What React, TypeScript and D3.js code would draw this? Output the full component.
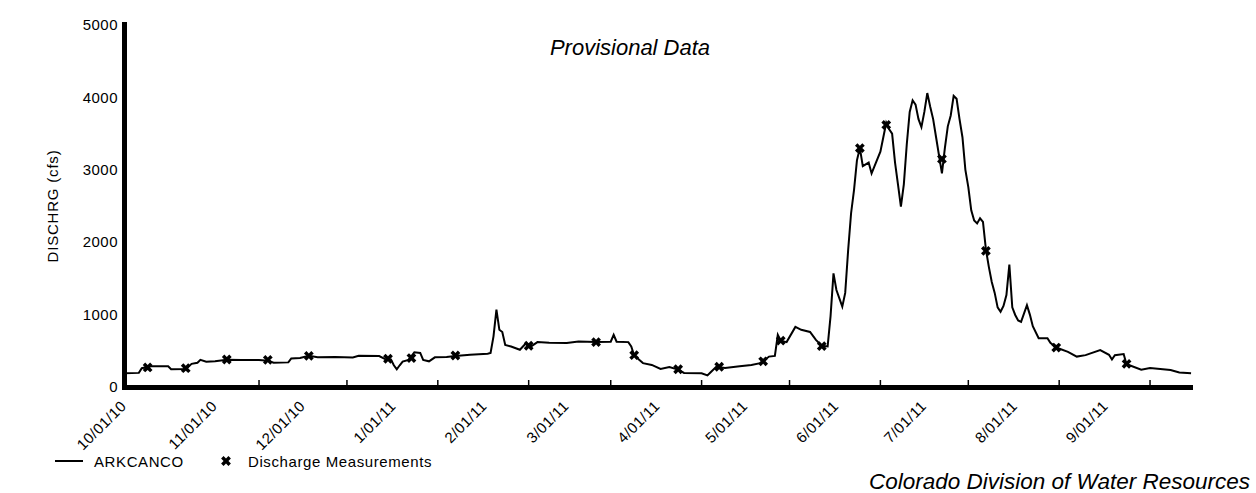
import React, { useEffect, useRef } from 'react';
import * as d3 from 'd3';

// daily discharge (cfs)
const flow: [string, number][] = [
  ['2010-10-01', 190], ['2010-10-06', 195], ['2010-10-07', 260], ['2010-10-10', 285], ['2010-10-16', 285],
  ['2010-10-17', 245], ['2010-10-22', 250], ['2010-10-24', 320], ['2010-10-26', 335], ['2010-10-27', 375],
  ['2010-10-29', 350], ['2010-11-01', 355], ['2010-11-05', 375], ['2010-11-10', 372], ['2010-11-16', 372],
  ['2010-11-19', 362], ['2010-11-21', 335], ['2010-11-26', 340], ['2010-11-27', 395], ['2010-11-30', 400],
  ['2010-12-03', 430], ['2010-12-06', 410], ['2010-12-12', 415], ['2010-12-18', 408], ['2010-12-20', 430],
  ['2010-12-27', 428], ['2010-12-29', 385], ['2010-12-31', 380], ['2011-01-01', 300], ['2011-01-02', 245],
  ['2011-01-03', 300], ['2011-01-04', 350], ['2011-01-06', 375], ['2011-01-08', 480], ['2011-01-10', 470],
  ['2011-01-11', 375], ['2011-01-13', 355], ['2011-01-15', 410], ['2011-01-19', 415], ['2011-01-22', 428],
  ['2011-01-27', 445], ['2011-02-02', 460], ['2011-02-03', 470], ['2011-02-04', 700], ['2011-02-05', 1070],
  ['2011-02-06', 790], ['2011-02-07', 760], ['2011-02-08', 580], ['2011-02-10', 560], ['2011-02-13', 515],
  ['2011-02-15', 600], ['2011-02-17', 565], ['2011-02-19', 620], ['2011-02-23', 610], ['2011-03-01', 608],
  ['2011-03-05', 630], ['2011-03-11', 620], ['2011-03-16', 625], ['2011-03-17', 720], ['2011-03-18', 625],
  ['2011-03-22', 620], ['2011-03-23', 560], ['2011-03-24', 435], ['2011-03-27', 330], ['2011-03-30', 305],
  ['2011-04-02', 250], ['2011-04-05', 275], ['2011-04-08', 240], ['2011-04-10', 195], ['2011-04-16', 190],
  ['2011-04-18', 160], ['2011-04-19', 200], ['2011-04-21', 280], ['2011-04-24', 262], ['2011-04-29', 285],
  ['2011-05-03', 305], ['2011-05-06', 330], ['2011-05-07', 355], ['2011-05-09', 420], ['2011-05-11', 430],
  ['2011-05-12', 720], ['2011-05-13', 640], ['2011-05-15', 620], ['2011-05-18', 830], ['2011-05-20', 790],
  ['2011-05-23', 760], ['2011-05-25', 650], ['2011-05-27', 570], ['2011-05-29', 560], ['2011-05-30', 980],
  ['2011-05-31', 1570], ['2011-06-01', 1340], ['2011-06-03', 1110], ['2011-06-04', 1300], ['2011-06-05', 1890],
  ['2011-06-06', 2400], ['2011-06-07', 2720], ['2011-06-08', 3130], ['2011-06-09', 3300], ['2011-06-10', 3050],
  ['2011-06-12', 3100], ['2011-06-13', 2950], ['2011-06-15', 3150], ['2011-06-16', 3250], ['2011-06-17', 3450],
  ['2011-06-18', 3650], ['2011-06-19', 3560], ['2011-06-20', 3500], ['2011-06-21', 3100], ['2011-06-22', 2800],
  ['2011-06-23', 2490], ['2011-06-24', 2800], ['2011-06-25', 3350], ['2011-06-26', 3800], ['2011-06-27', 3960],
  ['2011-06-28', 3900], ['2011-06-29', 3700], ['2011-06-30', 3590], ['2011-07-01', 3800], ['2011-07-02', 4060],
  ['2011-07-03', 3870], ['2011-07-04', 3700], ['2011-07-05', 3450], ['2011-07-06', 3200], ['2011-07-07', 2950],
  ['2011-07-08', 3300], ['2011-07-09', 3600], ['2011-07-10', 3750], ['2011-07-11', 4020], ['2011-07-12', 3980],
  ['2011-07-13', 3700], ['2011-07-14', 3450], ['2011-07-15', 3000], ['2011-07-16', 2760], ['2011-07-17', 2440],
  ['2011-07-18', 2300], ['2011-07-19', 2260], ['2011-07-20', 2330], ['2011-07-21', 2280], ['2011-07-22', 1900],
  ['2011-07-23', 1660], ['2011-07-24', 1450], ['2011-07-25', 1300], ['2011-07-26', 1100], ['2011-07-27', 1040],
  ['2011-07-28', 1120], ['2011-07-29', 1270], ['2011-07-30', 1690], ['2011-07-31', 1100], ['2011-08-01', 995],
  ['2011-08-02', 920], ['2011-08-03', 900], ['2011-08-05', 1130], ['2011-08-06', 1000], ['2011-08-07', 840],
  ['2011-08-09', 675], ['2011-08-12', 675], ['2011-08-13', 610], ['2011-08-15', 545], ['2011-08-19', 485],
  ['2011-08-22', 420], ['2011-08-25', 440], ['2011-08-30', 510], ['2011-09-02', 445], ['2011-09-03', 380],
  ['2011-09-04', 440], ['2011-09-07', 455], ['2011-09-08', 310], ['2011-09-09', 300], ['2011-09-13', 240],
  ['2011-09-16', 262], ['2011-09-23', 235], ['2011-09-26', 200], ['2011-09-30', 190],
];

// field discharge measurements (cfs)
const measurements: [string, number][] = [
  ['2010-10-09', 270], ['2010-10-22', 260], ['2010-11-05', 380], ['2010-11-19', 375], ['2010-12-03', 430],
  ['2010-12-30', 390], ['2011-01-07', 400], ['2011-01-22', 435], ['2011-02-16', 570], ['2011-03-11', 620],
  ['2011-03-24', 440], ['2011-04-08', 245], ['2011-04-22', 280], ['2011-05-07', 355], ['2011-05-13', 640],
  ['2011-05-27', 565], ['2011-06-09', 3300], ['2011-06-18', 3620], ['2011-07-07', 3150], ['2011-07-22', 1880],
  ['2011-08-15', 545], ['2011-09-08', 320],
];

const yTicks = [0, 1000, 2000, 3000, 4000, 5000];
const monthLabels = [
  '10/01/10', '11/01/10', '12/01/10', '1/01/11', '2/01/11', '3/01/11',
  '4/01/11', '5/01/11', '6/01/11', '7/01/11', '8/01/11', '9/01/11',
];

const W = 1256;
const H = 493;
const FONT = '"Liberation Sans", Arial, Helvetica, sans-serif';

export default function App() {
  const chart = useRef<SVGSVGElement>(null);

  useEffect(() => {
    document.body.style.margin = '0';
    const parse = d3.timeParse('%Y-%m-%d');
    const start = parse('2010-10-01') as Date;
    const end = parse('2011-10-01') as Date;

    const x = d3.scaleTime().domain([start, end]).range([124.2, 1194]);
    const y = d3.scaleLinear().domain([0, 5000]).range([387, 25]);

    const svg = d3.select(chart.current);
    svg.selectAll('*').remove();
    svg.append('rect').attr('width', W).attr('height', H).attr('fill', '#fff');

    // discharge line
    const line = d3
      .line<[string, number]>()
      .x((d) => x(parse(d[0]) as Date))
      .y((d) => y(d[1]));

    svg
      .append('path')
      .datum(flow)
      .attr('d', line)
      .attr('fill', 'none')
      .attr('stroke', '#000')
      .attr('stroke-width', 2)
      .attr('stroke-linejoin', 'miter');

    // measurement markers
    const cross = d3.symbol(d3.symbolCross, 60);
    svg
      .append('g')
      .selectAll('path')
      .data(measurements)
      .join('path')
      .attr('d', cross)
      .attr('fill', '#000')
      .attr('transform', (d) => `translate(${x(parse(d[0]) as Date)},${y(d[1])}) rotate(45)`);

    // axes
    const axes = svg.append('g').attr('stroke', '#000');
    axes.append('line').attr('x1', 124.5).attr('x2', 124.5).attr('y1', 22).attr('y2', 390).attr('stroke-width', 5);
    axes.append('line').attr('x1', 122).attr('x2', 1193).attr('y1', 387.5).attr('y2', 387.5).attr('stroke-width', 5);

    const tickDates = d3.timeMonths(parse('2010-11-01') as Date, end).map((m) => d3.timeDay.offset(m, 15));
    axes
      .selectAll('line.tick')
      .data(tickDates)
      .join('line')
      .attr('class', 'tick')
      .attr('x1', (d) => x(d))
      .attr('x2', (d) => x(d))
      .attr('y1', 380)
      .attr('y2', 386)
      .attr('stroke-width', 1.5);

    svg
      .append('g')
      .attr('font-family', FONT)
      .attr('font-size', 15)
      .attr('letter-spacing', 0.5)
      .selectAll('text')
      .data(yTicks)
      .join('text')
      .attr('x', 118)
      .attr('y', (d) => y(d))
      .attr('dy', '0.35em')
      .attr('text-anchor', 'end')
      .text((d) => d);

    const months = d3.timeMonths(start, end);
    svg
      .append('g')
      .attr('font-family', FONT)
      .attr('font-size', 15)
      .attr('letter-spacing', 0.5)
      .selectAll('text')
      .data(months)
      .join('text')
      .attr('transform', (d) => `translate(${x(d) + 3},${407}) rotate(-45)`)
      .attr('text-anchor', 'end')
      .text((d, i) => monthLabels[i]);

    svg
      .append('text')
      .attr('transform', 'translate(58,206) rotate(-90)')
      .attr('text-anchor', 'middle')
      .attr('font-family', FONT)
      .attr('font-size', 15)
      .attr('letter-spacing', 0.8)
      .text('DISCHRG (cfs)');

    svg
      .append('text')
      .attr('x', 630)
      .attr('y', 55)
      .attr('text-anchor', 'middle')
      .attr('font-family', FONT)
      .attr('font-style', 'italic')
      .attr('font-size', 22)
      .text('Provisional Data');

    svg
      .append('text')
      .attr('x', 1250)
      .attr('y', 489)
      .attr('text-anchor', 'end')
      .attr('font-family', FONT)
      .attr('font-style', 'italic')
      .attr('font-size', 22.5)
      .text('Colorado Division of Water Resources');

    // legend
    const legend = svg.append('g').attr('font-family', FONT).attr('font-size', 15).attr('letter-spacing', 0.6);
    legend.append('line').attr('x1', 55).attr('x2', 83).attr('y1', 461).attr('y2', 461).attr('stroke', '#000').attr('stroke-width', 2);
    legend.append('text').attr('x', 94).attr('y', 467).text('ARKCANCO');
    legend
      .append('path')
      .attr('d', cross)
      .attr('fill', '#000')
      .attr('transform', 'translate(226,461) rotate(45)');
    legend.append('text').attr('x', 248).attr('y', 467).text('Discharge Measurements');
  }, []);

  return <svg ref={chart} width={W} height={H} style={{ display: 'block' }}></svg>;
}
